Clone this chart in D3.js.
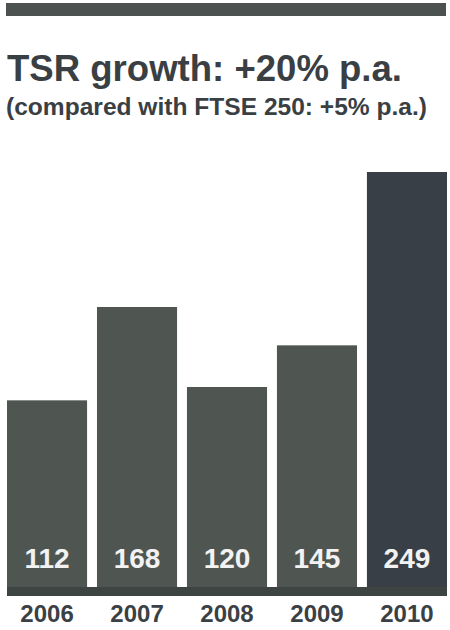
<!DOCTYPE html>
<html>
<head>
<meta charset="utf-8">
<script src="https://cdn.jsdelivr.net/npm/d3@7"></script>
<style>
  html, body { margin: 0; padding: 0; background: #ffffff; }
  svg { display: block; }
</style>
</head>
<body>
<script>
const years = ["2006", "2007", "2008", "2009", "2010"];
const values = [112, 168, 120, 145, 249];
const highlightYear = "2010";
const titleText = "TSR growth: +20% p.a.";
const subtitleText = "(compared with FTSE 250: +5% p.a.)";

const W = 450, H = 630;
const svg = d3.select("body").append("svg").attr("width", W).attr("height", H);

// top rule
svg.append("rect").attr("x", 6).attr("y", 3).attr("width", 440).attr("height", 13)
  .attr("fill", "#4b524f");

// title + subtitle
svg.append("text").attr("x", 7).attr("y", 81)
  .attr("font-family", "Liberation Sans, Arial, sans-serif")
  .attr("font-weight", "bold").attr("font-size", 36.5)
  .attr("fill", "#3a3f44")
  .attr("textLength", 395).attr("lengthAdjust", "spacingAndGlyphs")
  .text(titleText);
svg.append("text").attr("x", 6).attr("y", 115)
  .attr("font-family", "Liberation Sans, Arial, sans-serif")
  .attr("font-weight", "bold").attr("font-size", 24.5)
  .attr("fill", "#3a3f44")
  .attr("textLength", 421).attr("lengthAdjust", "spacingAndGlyphs")
  .text(subtitleText);

const x = d3.scaleBand().domain(years).range([7, 447]).paddingInner(0.11).paddingOuter(0);
const y = d3.scaleLinear().domain([0, 300]).range([587, 87]);

const data = years.map((yr, i) => ({ year: yr, value: values[i] }));

svg.append("g").selectAll("rect").data(data).join("rect")
  .attr("x", d => x(d.year))
  .attr("y", d => y(d.value))
  .attr("width", x.bandwidth())
  .attr("height", d => y(0) - y(d.value))
  .attr("fill", d => d.year === highlightYear ? "#383f47" : "#4f5652");

// baseline strip
svg.append("rect").attr("x", 7).attr("y", y(0)).attr("width", 440).attr("height", 9)
  .attr("fill", "#3d4441");

// value labels
svg.append("g").selectAll("text").data(data).join("text")
  .attr("x", d => x(d.year) + x.bandwidth() / 2)
  .attr("y", 568)
  .attr("text-anchor", "middle")
  .attr("font-family", "Liberation Sans, Arial, sans-serif")
  .attr("font-weight", "bold").attr("font-size", 28)
  .attr("fill", "#f2f2f2")
  .text(d => d.value);

// x axis labels
const xAxis = d3.axisBottom(x).tickSize(0).tickPadding(0);
const gx = svg.append("g").attr("transform", `translate(0, 605)`).call(xAxis);
gx.select(".domain").remove();
gx.selectAll("text")
  .attr("y", 0).attr("dy", "0.71em")
  .attr("font-family", "Liberation Sans, Arial, sans-serif")
  .attr("font-weight", "bold").attr("font-size", 24)
  .attr("fill", "#3b4045");
</script>
</body>
</html>
